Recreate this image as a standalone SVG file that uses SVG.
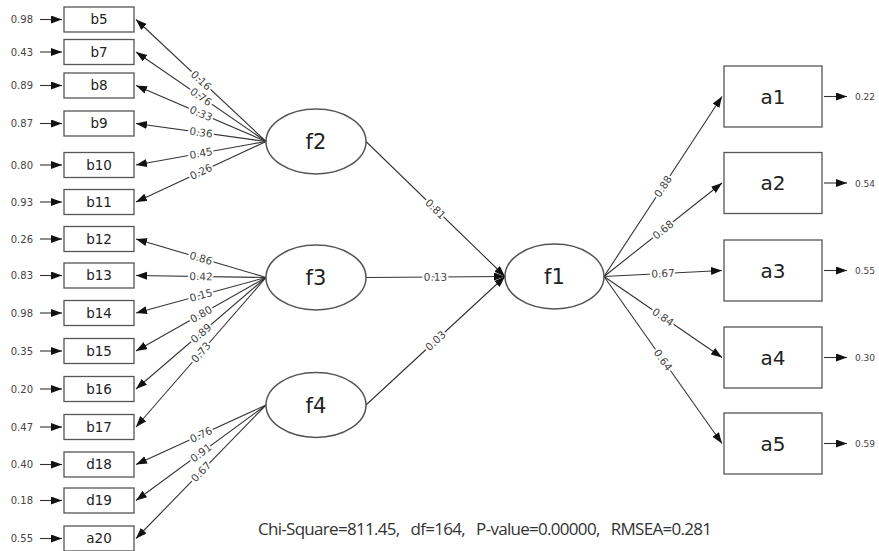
<svg xmlns="http://www.w3.org/2000/svg" width="879" height="551" viewBox="0 0 879 551">
<defs>
<marker id="ah" markerUnits="userSpaceOnUse" markerWidth="12" markerHeight="9" refX="11" refY="4" orient="auto">
<path d="M0,0 L11,4 L0,8 z" fill="#111"/>
</marker>
<style>
.bx{fill:#fff;stroke:#555;stroke-width:1.3}
.el{fill:#fff;stroke:#555;stroke-width:1.5}
.ln{stroke:#333;stroke-width:1.1;fill:none;marker-end:url(#ah)}
.t{font-family:"DejaVu Sans",sans-serif;fill:#222;text-anchor:middle}
.bt{font-size:13.5px}
.ft{font-size:21px}
.at{font-size:20px}
.err{font-family:"DejaVu Sans",sans-serif;font-size:10px;fill:#444;text-anchor:end}
.errr{font-family:"DejaVu Sans",sans-serif;font-size:9px;fill:#444}
.lab{font-family:"DejaVu Sans",sans-serif;font-size:10.5px;fill:#444;text-anchor:middle;stroke:#fff;stroke-width:4;paint-order:stroke fill;stroke-linejoin:round}
.fit{font-family:"Open Sans","Liberation Sans",sans-serif;font-size:17px;fill:#333}
</style>
</defs>
<rect width="879" height="551" fill="#fff"/>

<g id="connectors">
<line class="ln" x1="40" y1="19.5" x2="62" y2="19.5"/>
<line class="ln" x1="40" y1="52" x2="62" y2="52"/>
<line class="ln" x1="40" y1="85.5" x2="62" y2="85.5"/>
<line class="ln" x1="40" y1="123.5" x2="62" y2="123.5"/>
<line class="ln" x1="40" y1="165" x2="62" y2="165"/>
<line class="ln" x1="40" y1="202" x2="62" y2="202"/>
<line class="ln" x1="40" y1="239" x2="62" y2="239"/>
<line class="ln" x1="40" y1="275.5" x2="62" y2="275.5"/>
<line class="ln" x1="40" y1="313" x2="62" y2="313"/>
<line class="ln" x1="40" y1="351" x2="62" y2="351"/>
<line class="ln" x1="40" y1="389" x2="62" y2="389"/>
<line class="ln" x1="40" y1="427" x2="62" y2="427"/>
<line class="ln" x1="40" y1="464.5" x2="62" y2="464.5"/>
<line class="ln" x1="40" y1="500.5" x2="62" y2="500.5"/>
<line class="ln" x1="40" y1="538.5" x2="62" y2="538.5"/>
<line class="ln" x1="266" y1="141.5" x2="136" y2="19.5"/>
<line class="ln" x1="266" y1="141.5" x2="136" y2="52"/>
<line class="ln" x1="266" y1="141.5" x2="136" y2="85.5"/>
<line class="ln" x1="266" y1="141.5" x2="136" y2="123.5"/>
<line class="ln" x1="266" y1="141.5" x2="136" y2="165"/>
<line class="ln" x1="266" y1="141.5" x2="136" y2="202"/>
<line class="ln" x1="266" y1="277.5" x2="136" y2="239"/>
<line class="ln" x1="266" y1="277.5" x2="136" y2="275.5"/>
<line class="ln" x1="266" y1="277.5" x2="136" y2="313"/>
<line class="ln" x1="266" y1="277.5" x2="136" y2="351"/>
<line class="ln" x1="266" y1="277.5" x2="136" y2="389"/>
<line class="ln" x1="266" y1="277.5" x2="136" y2="427"/>
<line class="ln" x1="266" y1="405" x2="136" y2="464.5"/>
<line class="ln" x1="266" y1="405" x2="136" y2="500.5"/>
<line class="ln" x1="266" y1="405" x2="136" y2="538.5"/>
<line class="ln" x1="366" y1="141.5" x2="505" y2="276.5"/>
<line class="ln" x1="366" y1="277.5" x2="505" y2="276.5"/>
<line class="ln" x1="366" y1="405" x2="505" y2="276.5"/>
<line class="ln" x1="604" y1="276.5" x2="722" y2="96.5"/>
<line class="ln" x1="604" y1="276.5" x2="722" y2="183"/>
<line class="ln" x1="604" y1="276.5" x2="722" y2="270.5"/>
<line class="ln" x1="604" y1="276.5" x2="722" y2="357.5"/>
<line class="ln" x1="604" y1="276.5" x2="722" y2="443.5"/>
<line class="ln" x1="824" y1="96.5" x2="847" y2="96.5"/>
<line class="ln" x1="824" y1="183" x2="847" y2="183"/>
<line class="ln" x1="824" y1="270.5" x2="847" y2="270.5"/>
<line class="ln" x1="824" y1="357.5" x2="847" y2="357.5"/>
<line class="ln" x1="824" y1="443.5" x2="847" y2="443.5"/>

<text class="lab" dy="0.35em" transform="translate(201,80.5) rotate(43.18)">0.16</text>
<text class="lab" dy="0.35em" transform="translate(201,96.75) rotate(34.54)">0.76</text>
<text class="lab" dy="0.35em" transform="translate(201,113.5) rotate(23.3)">0.33</text>
<text class="lab" dy="0.35em" transform="translate(201,132.5) rotate(7.88)">0.36</text>
<text class="lab" dy="0.35em" transform="translate(201,153.25) rotate(-10.25)">0.45</text>
<text class="lab" dy="0.35em" transform="translate(201,171.75) rotate(-24.96)">0.26</text>
<text class="lab" dy="0.35em" transform="translate(201,258.25) rotate(16.5)">0.86</text>
<text class="lab" dy="0.35em" transform="translate(201,276.5) rotate(0.88)">0.42</text>
<text class="lab" dy="0.35em" transform="translate(201,295.25) rotate(-15.27)">0.15</text>
<text class="lab" dy="0.35em" transform="translate(201,314.25) rotate(-29.49)">0.80</text>
<text class="lab" dy="0.35em" transform="translate(201,333.25) rotate(-40.62)">0.89</text>
<text class="lab" dy="0.35em" transform="translate(201,352.25) rotate(-48.99)">0.73</text>
<text class="lab" dy="0.35em" transform="translate(201,434.75) rotate(-24.6)">0.76</text>
<text class="lab" dy="0.35em" transform="translate(201,452.75) rotate(-36.3)">0.91</text>
<text class="lab" dy="0.35em" transform="translate(201,471.75) rotate(-45.76)">0.67</text>
<text class="lab" dy="0.35em" transform="translate(435.5,209) rotate(44.17)">0.81</text>
<text class="lab" dy="0.35em" transform="translate(435.5,277) rotate(-0.41)">0.13</text>
<text class="lab" dy="0.35em" transform="translate(435.5,340.75) rotate(-42.75)">0.03</text>
<text class="lab" dy="0.35em" transform="translate(663,186.5) rotate(-56.75)">0.88</text>
<text class="lab" dy="0.35em" transform="translate(663,229.75) rotate(-38.39)">0.68</text>
<text class="lab" dy="0.35em" transform="translate(663,273.5) rotate(-2.91)">0.67</text>
<text class="lab" dy="0.35em" transform="translate(663,317) rotate(34.47)">0.84</text>
<text class="lab" dy="0.35em" transform="translate(663,360) rotate(54.76)">0.64</text>

<text class="err" x="33" y="23">0.98</text>
<text class="err" x="33" y="55.5">0.43</text>
<text class="err" x="33" y="89">0.89</text>
<text class="err" x="33" y="127">0.87</text>
<text class="err" x="33" y="168.5">0.80</text>
<text class="err" x="33" y="205.5">0.93</text>
<text class="err" x="33" y="242.5">0.26</text>
<text class="err" x="33" y="279">0.83</text>
<text class="err" x="33" y="316.5">0.98</text>
<text class="err" x="33" y="354.5">0.35</text>
<text class="err" x="33" y="392.5">0.20</text>
<text class="err" x="33" y="430.5">0.47</text>
<text class="err" x="33" y="468">0.40</text>
<text class="err" x="33" y="504">0.18</text>
<text class="err" x="33" y="542">0.55</text>
<text class="errr" x="855" y="100">0.22</text>
<text class="errr" x="855" y="186.5">0.54</text>
<text class="errr" x="855" y="274">0.55</text>
<text class="errr" x="855" y="361">0.30</text>
<text class="errr" x="855" y="447">0.59</text>
</g>

<g id="b5"><rect class="bx" x="64" y="7" width="70" height="25"/><text class="t bt" x="99" y="24">b5</text></g>
<g id="b7"><rect class="bx" x="64" y="39.5" width="70" height="25"/><text class="t bt" x="99" y="56.5">b7</text></g>
<g id="b8"><rect class="bx" x="64" y="73" width="70" height="25"/><text class="t bt" x="99" y="90">b8</text></g>
<g id="b9"><rect class="bx" x="64" y="111" width="70" height="25"/><text class="t bt" x="99" y="128">b9</text></g>
<g id="b10"><rect class="bx" x="64" y="152.5" width="70" height="25"/><text class="t bt" x="99" y="169.5">b10</text></g>
<g id="b11"><rect class="bx" x="64" y="189.5" width="70" height="25"/><text class="t bt" x="99" y="206.5">b11</text></g>
<g id="b12"><rect class="bx" x="64" y="226.5" width="70" height="25"/><text class="t bt" x="99" y="243.5">b12</text></g>
<g id="b13"><rect class="bx" x="64" y="263" width="70" height="25"/><text class="t bt" x="99" y="280">b13</text></g>
<g id="b14"><rect class="bx" x="64" y="300.5" width="70" height="25"/><text class="t bt" x="99" y="317.5">b14</text></g>
<g id="b15"><rect class="bx" x="64" y="338.5" width="70" height="25"/><text class="t bt" x="99" y="355.5">b15</text></g>
<g id="b16"><rect class="bx" x="64" y="376.5" width="70" height="25"/><text class="t bt" x="99" y="393.5">b16</text></g>
<g id="b17"><rect class="bx" x="64" y="414.5" width="70" height="25"/><text class="t bt" x="99" y="431.5">b17</text></g>
<g id="d18"><rect class="bx" x="64" y="452" width="70" height="25"/><text class="t bt" x="99" y="469">d18</text></g>
<g id="d19"><rect class="bx" x="64" y="488" width="70" height="25"/><text class="t bt" x="99" y="505">d19</text></g>
<g id="a20"><rect class="bx" x="64" y="526" width="70" height="25"/><text class="t bt" x="99" y="543">a20</text></g>

<g id="f2"><ellipse class="el" cx="316" cy="141.5" rx="50" ry="32.5"/><text class="t ft" x="316" y="149">f2</text></g>
<g id="f3"><ellipse class="el" cx="316" cy="277.5" rx="50" ry="32.5"/><text class="t ft" x="316" y="285">f3</text></g>
<g id="f4"><ellipse class="el" cx="316" cy="405" rx="50" ry="32.5"/><text class="t ft" x="316" y="412.5">f4</text></g>
<g id="f1"><ellipse class="el" cx="554.5" cy="276.5" rx="49.5" ry="32.5"/><text class="t ft" x="554.5" y="284">f1</text></g>

<g id="a1"><rect class="bx" x="724" y="66" width="98" height="61"/><text class="t at" x="773" y="103.5">a1</text></g>
<g id="a2"><rect class="bx" x="724" y="152.5" width="98" height="61"/><text class="t at" x="773" y="190">a2</text></g>
<g id="a3"><rect class="bx" x="724" y="240" width="98" height="61"/><text class="t at" x="773" y="277.5">a3</text></g>
<g id="a4"><rect class="bx" x="724" y="327" width="98" height="61"/><text class="t at" x="773" y="364.5">a4</text></g>
<g id="a5"><rect class="bx" x="724" y="413" width="98" height="61"/><text class="t at" x="773" y="450.5">a5</text></g>

<text class="fit" x="258" y="535" textLength="454" xml:space="preserve">Chi-Square=811.45,   df=164,   P-value=0.00000,   RMSEA=0.281</text>
</svg>
